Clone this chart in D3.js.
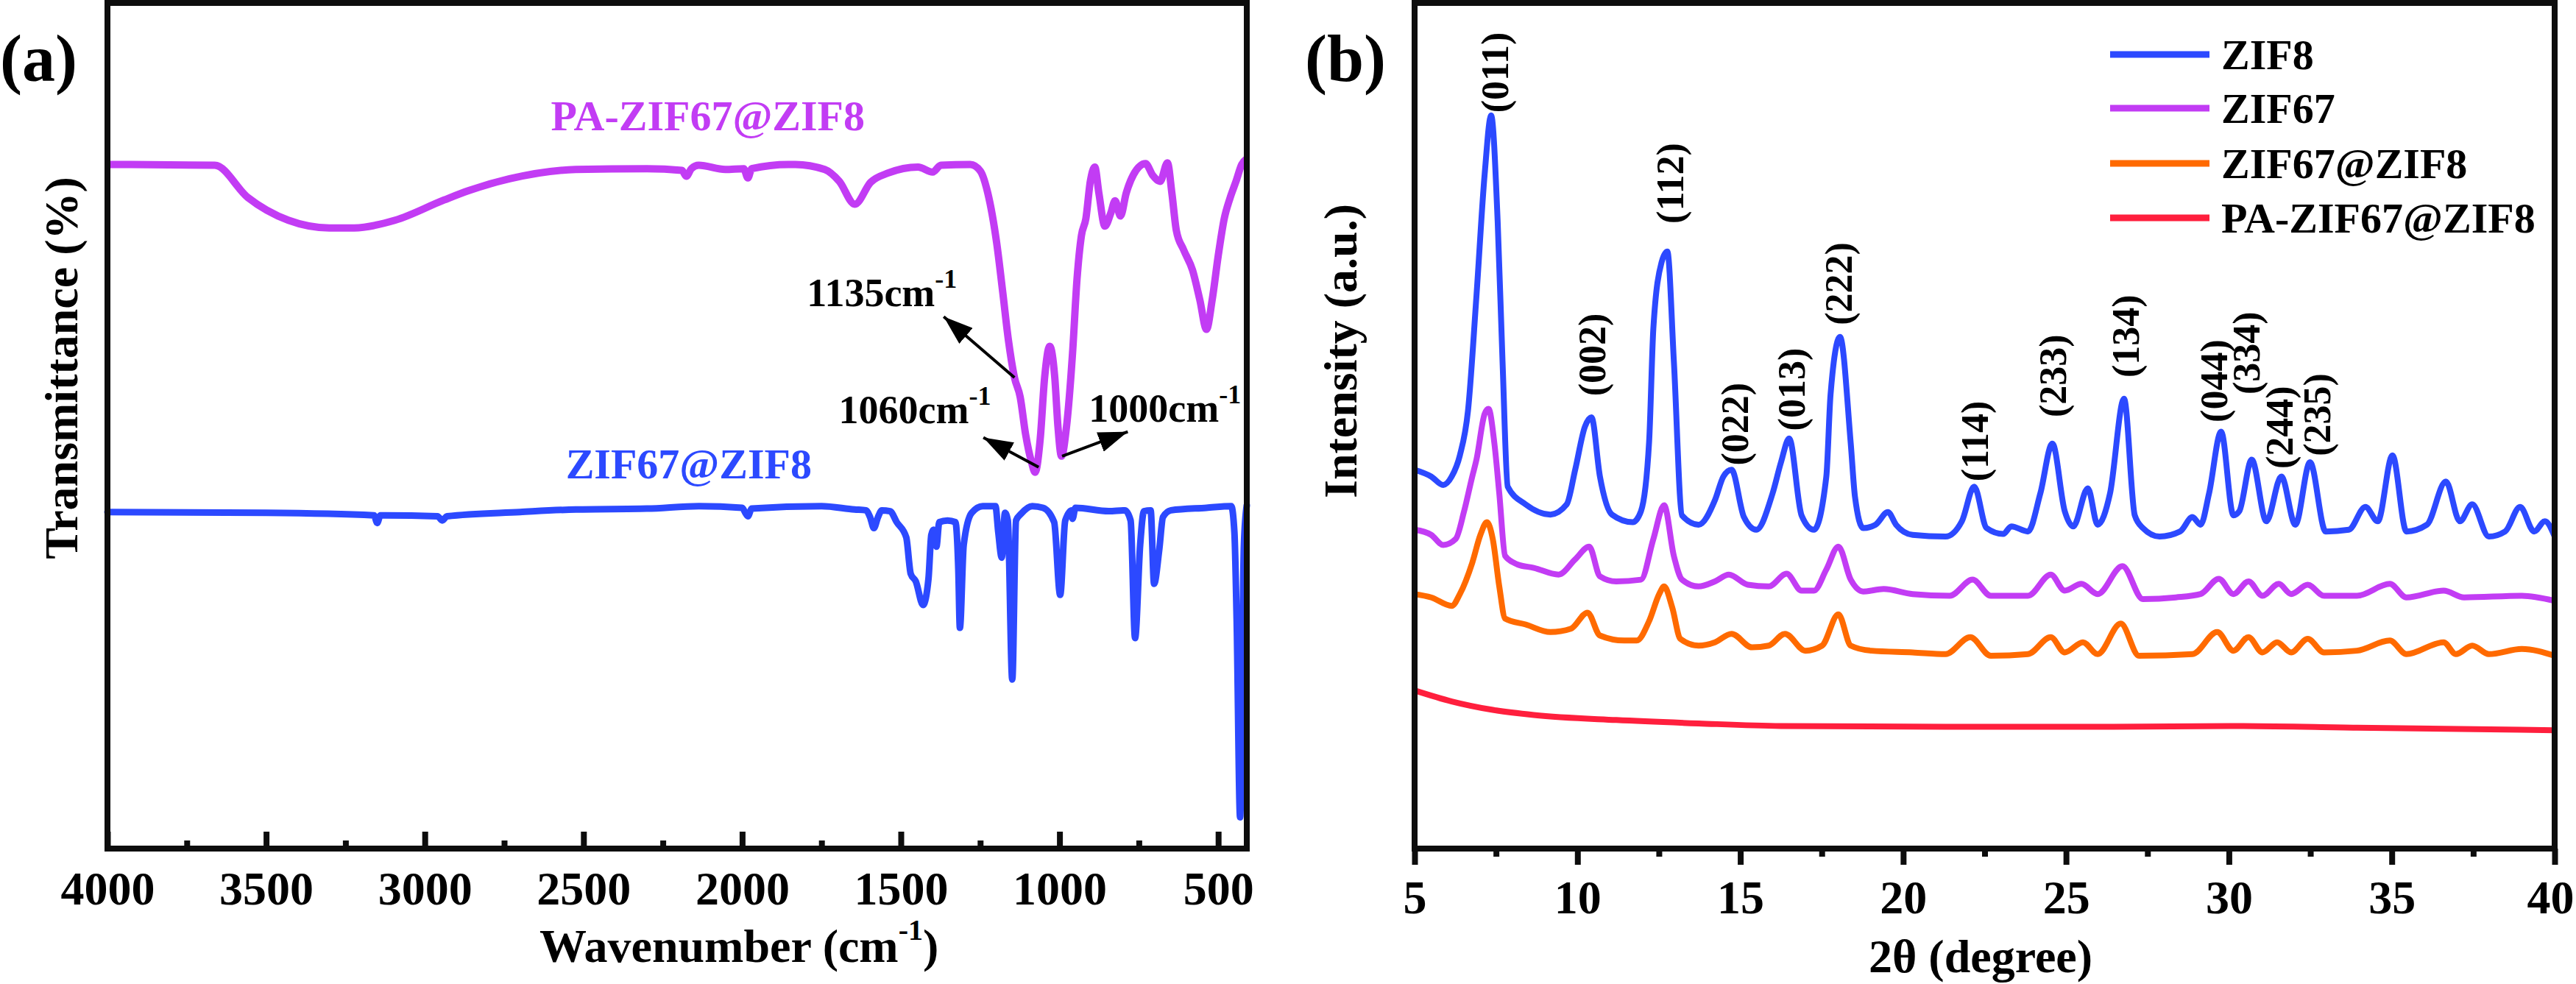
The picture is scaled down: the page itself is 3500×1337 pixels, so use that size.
<!DOCTYPE html>
<html><head><meta charset="utf-8">
<script src="https://cdn.jsdelivr.net/npm/d3@7"></script>
<style>body{margin:0;background:#fff}svg{display:block}</style>
</head><body>
<svg id="chart" width="3500" height="1337"></svg>
<script>
// ---------- Panel (a) FTIR data ----------
const ftirTicks = [4000,3500,3000,2500,2000,1500,1000,500];
const ftirMinorTicks = [3750,3250,2750,2250,1750,1250,750];
const paWavenumber = [4000,3662,3558,3430,3301,3222,3094,2939,2862,2733,2525,2300,2190,2176,2160,2137,2053,1995,1982,1970,1854,1833,1740,1694,1645,1595,1539,1446,1400,1374,1281,1249,1226,1198,1179,1161,1142,1124,1107,1089,1077,1061,1047,1031,1015,1005,994,978,959,945,931,917,903,889,876,857,839,825,808,790,767,729,706,683,660,646,632,609,581,558,537,519,500,481,463,444,426,410];
const paTransmittance = [80.9,80.8,77.0,74.3,73.4,73.4,74.3,76.7,77.8,79.2,80.3,80.4,80.2,79.5,80.4,80.8,80.3,80.4,79.3,80.4,80.9,80.9,80.3,78.9,76.2,78.8,79.9,80.6,80.0,80.8,80.9,80.1,77.5,71.6,65.8,60.1,55.7,53.4,49.0,45.8,44.5,48.4,55.7,59.4,55.7,49.9,46.4,49.9,58.6,67.3,72.5,74.5,78.9,80.6,77.5,73.6,75.1,76.6,74.8,77.5,79.7,81.0,79.6,78.9,81.1,77.5,73.1,70.8,68.4,64.9,61.4,64.9,70.1,74.5,76.9,78.9,80.9,81.6];
const zfWavenumber = [4000,3500,3160,3150,3140,3125,2960,2945,2930,2700,2524,2300,2136,2000,1990,1982,1970,1750,1646,1610,1597,1585,1572,1560,1534,1513,1483,1469,1453,1430,1413,1404,1397,1388,1379,1353,1328,1319,1314,1302,1277,1242,1202,1193,1182,1172,1163,1149,1137,1121,1086,1052,1017,998,982,961,959,950,845,794,776,762,746,734,713,702,686,674,649,537,459,449,442,431,419,410];
const zfTransmittance = [39.8,39.7,39.4,38.5,39.4,39.4,39.3,38.8,39.3,39.8,40.1,40.2,40.5,40.3,39.7,39.3,40.2,40.5,40.1,40.0,39.2,37.9,39.2,40.0,39.9,38.6,36.8,32.5,31.6,28.8,31.9,37.1,37.7,35.7,38.6,38.8,38.6,33.1,26.1,35.9,39.7,40.5,40.5,37.4,34.4,39.7,38.8,20.0,38.8,39.6,40.5,40.3,38.6,30.0,38.8,40.0,39.0,40.3,39.9,40.0,38.8,24.9,35.9,39.9,40.0,31.3,35.3,39.2,40.0,40.3,40.5,37.4,27.2,3.7,35.9,40.6];
// annotation anchors (wavenumber, transmittance)
const annLabels = ["1135","1060","1000"];
const annTextW = [1796,1696,908];
const annTextV = [64.1,50.3,50.5];
const arrowFromW = [1142,1066,992];
const arrowFromV = [55.7,45.1,46.4];
const arrowToW = [1365,1240,785];
const arrowToV = [62.9,48.6,49.3];

// ---------- Panel (b) XRD data ----------
const xrdTicks = [5,10,15,20,25,30,35,40];
const xrdMinorTicks = [7.5,12.5,17.5,22.5,27.5,32.5,37.5];
const zif8Theta = [5.00,5.51,5.88,6.14,6.39,6.64,6.90,7.15,7.35,7.55,7.70,7.86,8.41,9.17,9.67,9.93,10.23,10.43,10.69,11.06,11.70,11.95,12.20,12.33,12.58,12.76,12.96,13.21,13.72,14.22,14.48,14.73,15.11,15.49,15.99,16.25,16.50,16.88,17.26,17.64,17.77,18.06,18.39,18.52,18.77,19.15,19.53,19.78,20.29,21.30,21.80,22.18,22.56,23.07,23.32,23.83,24.21,24.58,24.96,25.22,25.67,25.97,26.35,26.78,27.11,27.36,27.87,28.50,28.88,29.13,29.39,29.76,30.14,30.32,30.70,31.15,31.61,32.04,32.49,32.97,33.68,34.19,34.57,35.02,35.45,36.08,36.66,37.09,37.47,37.98,38.48,38.94,39.37,39.70,40.00];
const zif8Int = [44.8,44.0,43.0,44.0,46.5,51.8,65.4,79.7,86.7,74.2,57.6,42.8,40.7,39.5,40.7,44.8,49.9,51.0,44.0,39.5,38.6,39.9,48.1,61.5,69.3,70.6,57.6,39.4,38.3,41.2,44.0,44.8,39.2,37.7,42.0,45.7,48.5,39.4,37.7,44.0,53.7,60.5,47.9,41.6,37.9,38.3,39.8,38.3,37.1,36.9,38.7,42.8,37.9,37.2,38.1,37.5,42.0,47.9,39.9,38.1,42.6,38.3,42.0,53.2,39.4,37.9,36.9,37.5,39.2,38.3,42.0,49.3,39.4,39.9,46.0,38.7,44.0,38.3,45.7,37.5,37.7,40.4,38.7,46.5,37.5,38.3,43.4,38.7,40.7,36.9,37.5,40.4,37.5,38.7,36.9];
const zif67Theta = [5.00,5.51,5.88,6.26,6.52,6.77,6.90,7.15,7.27,7.45,7.60,7.78,8.16,8.66,9.42,9.93,10.36,10.69,11.19,11.95,12.33,12.66,12.96,13.21,13.72,14.22,14.65,15.23,15.87,16.42,16.88,17.26,17.64,18.01,18.39,18.77,19.40,20.29,21.43,22.13,22.69,23.83,24.53,24.96,25.47,25.97,26.73,27.36,28.37,29.13,29.69,30.14,30.60,31.03,31.53,31.91,32.42,32.92,33.93,34.94,35.45,36.59,37.22,38.99,40.00];
const zif67Int = [37.7,37.1,35.9,36.6,39.9,44.0,46.0,51.4,52.0,47.9,42.0,34.6,33.6,33.2,32.4,34.2,35.7,32.2,31.6,31.8,36.6,40.6,34.6,31.8,31.0,31.6,32.4,31.2,31.0,32.5,30.5,30.5,33.0,35.7,31.8,30.4,30.7,30.1,29.9,31.8,29.9,29.9,32.4,30.5,31.3,30.1,33.4,29.5,29.7,30.1,31.9,30.1,31.6,29.9,31.3,30.1,31.2,29.9,29.9,31.3,29.7,30.5,29.7,29.9,29.3];
const coreTheta = [5.00,5.51,6.14,6.39,6.77,7.02,7.22,7.40,7.60,7.78,8.41,9.17,9.80,10.31,10.69,11.44,11.82,12.20,12.51,12.66,12.91,13.16,13.72,14.22,14.73,15.36,15.87,16.37,17.00,17.51,18.01,18.39,19.02,20.29,21.30,22.06,22.69,23.83,24.53,24.96,25.52,25.97,26.68,27.24,28.88,29.64,30.14,30.60,31.03,31.48,31.91,32.42,32.92,33.93,34.94,35.45,36.59,36.97,37.47,37.98,38.99,40.00];
const coreInt = [30.1,29.7,28.7,30.1,33.8,37.1,38.6,36.6,31.0,27.2,26.5,25.6,26.0,27.9,25.2,24.6,24.6,26.9,30.1,31.0,28.5,24.8,24.0,24.4,25.4,23.8,24.0,25.4,23.4,24.0,27.7,24.0,23.4,23.2,23.0,25.0,22.8,23.0,25.0,23.2,24.4,23.0,26.6,22.8,23.0,25.6,23.4,25.0,23.2,24.4,23.2,24.8,23.2,23.4,24.6,23.0,24.4,23.0,24.0,23.0,23.6,22.8];
const paTheta = [5.00,6.14,7.40,8.66,11.19,13.72,16.25,21.30,26.35,30.14,33.93,40.00];
const paInt = [18.7,17.4,16.4,15.8,15.2,14.8,14.5,14.4,14.4,14.5,14.3,14.0];
const hklLabels = ["(011)","(002)","(112)","(022)","(013)","(222)","(114)","(233)","(134)","(044)","(334)","(244)","(235)"];
const hklTheta = [7.46,10.45,12.84,14.83,16.57,18.01,22.19,24.59,26.83,29.54,30.53,31.55,32.70];
const hklBase = [87.0,53.5,73.9,45.3,49.4,61.9,43.4,51.0,55.7,50.4,53.7,44.9,46.4];
const legendNames = ["ZIF8","ZIF67","ZIF67@ZIF8","PA-ZIF67@ZIF8"];

// ---------- styling ----------
const C_BLUE="#2c49ff", C_MAG="#c23cf4", C_ORANGE="#ff6a00", C_RED="#ff1f3d", C_AX="#0d0d0d";
const FONT='"Liberation Serif","Times New Roman",Times,serif';
const plotTop=4, plotBottom=1153;

const svg=d3.select('#chart');
svg.append('rect').attr('width',3500).attr('height',1337).attr('fill','#fff');
const defs=svg.append('defs');
defs.append('marker').attr('id','ah').attr('markerUnits','userSpaceOnUse')
  .attr('markerWidth',42).attr('markerHeight',28).attr('refX',40).attr('refY',14)
  .attr('orient','auto').append('path').attr('d','M0,0 L40,14 L0,28 Z').attr('fill','#000');

const xA=d3.scaleLinear().domain([4000,410]).range([146,1694]);
const yA=d3.scaleLinear().domain([0,100]).range([plotBottom,plotTop]);
const xB=d3.scaleLinear().domain([5,40]).range([1922,3471]);
const yB=d3.scaleLinear().domain([0,100]).range([plotBottom,plotTop]);

function txt(g,x,y,s,size,opts={}){
  return g.append('text').attr('x',x).attr('y',y).text(s)
    .attr('font-family',FONT).attr('font-weight','bold').attr('font-size',size)
    .attr('fill',opts.fill||'#000').attr('text-anchor',opts.anchor||'start');
}

// ===== Panel (a) =====
const gA=svg.append('g');
const lineA=d3.line().x(d=>xA(d[0])).y(d=>yA(d[1])).curve(d3.curveMonotoneX);
gA.append('path').datum(paWavenumber.map((w,i)=>[w,paTransmittance[i]]))
  .attr('d',lineA).attr('fill','none').attr('stroke',C_MAG).attr('stroke-width',10).attr('stroke-linejoin','round');
gA.append('path').datum(zfWavenumber.map((w,i)=>[w,zfTransmittance[i]]))
  .attr('d',lineA).attr('fill','none').attr('stroke',C_BLUE).attr('stroke-width',9).attr('stroke-linejoin','round').attr('stroke-linecap','round');

// axis a (inward ticks)
const axA=gA.append('g').attr('transform',`translate(0,${plotBottom})`)
  .call(d3.axisBottom(xA).tickValues(ftirTicks).tickSize(-23).tickSizeOuter(0).tickFormat(d3.format('d')));
axA.select('.domain').remove();
axA.selectAll('line').attr('stroke',C_AX).attr('stroke-width',8);
axA.selectAll('text').attr('y',76).attr('dy',0).attr('font-family',FONT).attr('font-weight','bold').attr('font-size',64).attr('fill','#000');
const axAm=gA.append('g').attr('transform',`translate(0,${plotBottom})`)
  .call(d3.axisBottom(xA).tickValues(ftirMinorTicks).tickSize(-11).tickSizeOuter(0).tickFormat(''));
axAm.select('.domain').remove();
axAm.selectAll('line').attr('stroke',C_AX).attr('stroke-width',8);
gA.append('rect').attr('x',xA.range()[0]).attr('y',plotTop).attr('width',xA.range()[1]-xA.range()[0]).attr('height',plotBottom-plotTop)
  .attr('fill','none').attr('stroke',C_AX).attr('stroke-width',8);

// labels a
txt(gA,0,110,'(a)',90);
txt(gA,0,0,'Transmittance (%)',64,{anchor:'middle'}).attr('transform','translate(105,500) rotate(-90)');
const tA=txt(gA,733,1307,'Wavenumber (cm',64);
tA.append('tspan').text('-1').attr('font-size',40).attr('dy',-30);
tA.append('tspan').text(')').attr('dy',30);
txt(gA,xA(2603),yA(84.9),'PA-ZIF67@ZIF8',58,{fill:C_MAG});
txt(gA,xA(2556),yA(43.8),'ZIF67@ZIF8',58,{fill:C_BLUE});
annLabels.forEach((s,i)=>{
  const t=txt(gA,xA(annTextW[i]),yA(annTextV[i]),s+'cm',54);
  t.append('tspan').text('-1').attr('font-size',36).attr('dy',-25);
});
annLabels.forEach((s,i)=>{
  gA.append('line').attr('x1',xA(arrowFromW[i])).attr('y1',yA(arrowFromV[i]))
    .attr('x2',xA(arrowToW[i])).attr('y2',yA(arrowToV[i]))
    .attr('stroke','#000').attr('stroke-width',4).attr('marker-end','url(#ah)');
});

// ===== Panel (b) =====
const gB=svg.append('g');
const lineB=d3.line().x(d=>xB(d[0])).y(d=>yB(d[1])).curve(d3.curveMonotoneX);
const series=[[zif8Theta,zif8Int,C_BLUE],[zif67Theta,zif67Int,C_MAG],[coreTheta,coreInt,C_ORANGE],[paTheta,paInt,C_RED]];
series.slice().reverse().forEach(([tx,iy,c])=>{
  gB.append('path').datum(tx.map((t,i)=>[t,iy[i]])).attr('d',lineB)
    .attr('fill','none').attr('stroke',c).attr('stroke-width',8).attr('stroke-linejoin','round');
});
const axB=gB.append('g').attr('transform',`translate(0,${plotBottom})`)
  .call(d3.axisBottom(xB).tickValues(xrdTicks).tickSize(22).tickSizeOuter(0).tickFormat(d3.format('d')));
axB.select('.domain').remove();
axB.selectAll('line').attr('stroke',C_AX).attr('stroke-width',8);
axB.selectAll('text').attr('y',88).attr('dy',0).attr('font-family',FONT).attr('font-weight','bold').attr('font-size',64).attr('fill','#000');
// keep the last label ("40") inside the canvas, flush with the right edge as in the reference
axB.selectAll('.tick').filter(d=>d===40).select('text').attr('text-anchor','end').attr('x',26);
const axBm=gB.append('g').attr('transform',`translate(0,${plotBottom})`)
  .call(d3.axisBottom(xB).tickValues(xrdMinorTicks).tickSize(11).tickSizeOuter(0).tickFormat(''));
axBm.select('.domain').remove();
axBm.selectAll('line').attr('stroke',C_AX).attr('stroke-width',8);
gB.append('rect').attr('x',xB.range()[0]).attr('y',plotTop).attr('width',xB.range()[1]-xB.range()[0]).attr('height',plotBottom-plotTop)
  .attr('fill','none').attr('stroke',C_AX).attr('stroke-width',8);

txt(gB,1773,110,'(b)',90);
txt(gB,0,0,'Intensity (a.u.)',64,{anchor:'middle'}).attr('transform','translate(1843,477) rotate(-90)');
txt(gB,2691,1321,'2θ (degree)',64,{anchor:'middle'});

hklLabels.forEach((s,i)=>{
  txt(gB,0,0,s,52).attr('dy','0.35em')
    .attr('transform',`translate(${xB(hklTheta[i])},${yB(hklBase[i])}) rotate(-90)`);
});

// legend
const legY=[74,147,222,296];
legendNames.forEach((n,i)=>{
  gB.append('line').attr('x1',2867).attr('x2',3002).attr('y1',legY[i]).attr('y2',legY[i])
    .attr('stroke',series[i][2]).attr('stroke-width',9);
  txt(gB,3018,legY[i]+20,n,58);
});
</script>
</body></html>
